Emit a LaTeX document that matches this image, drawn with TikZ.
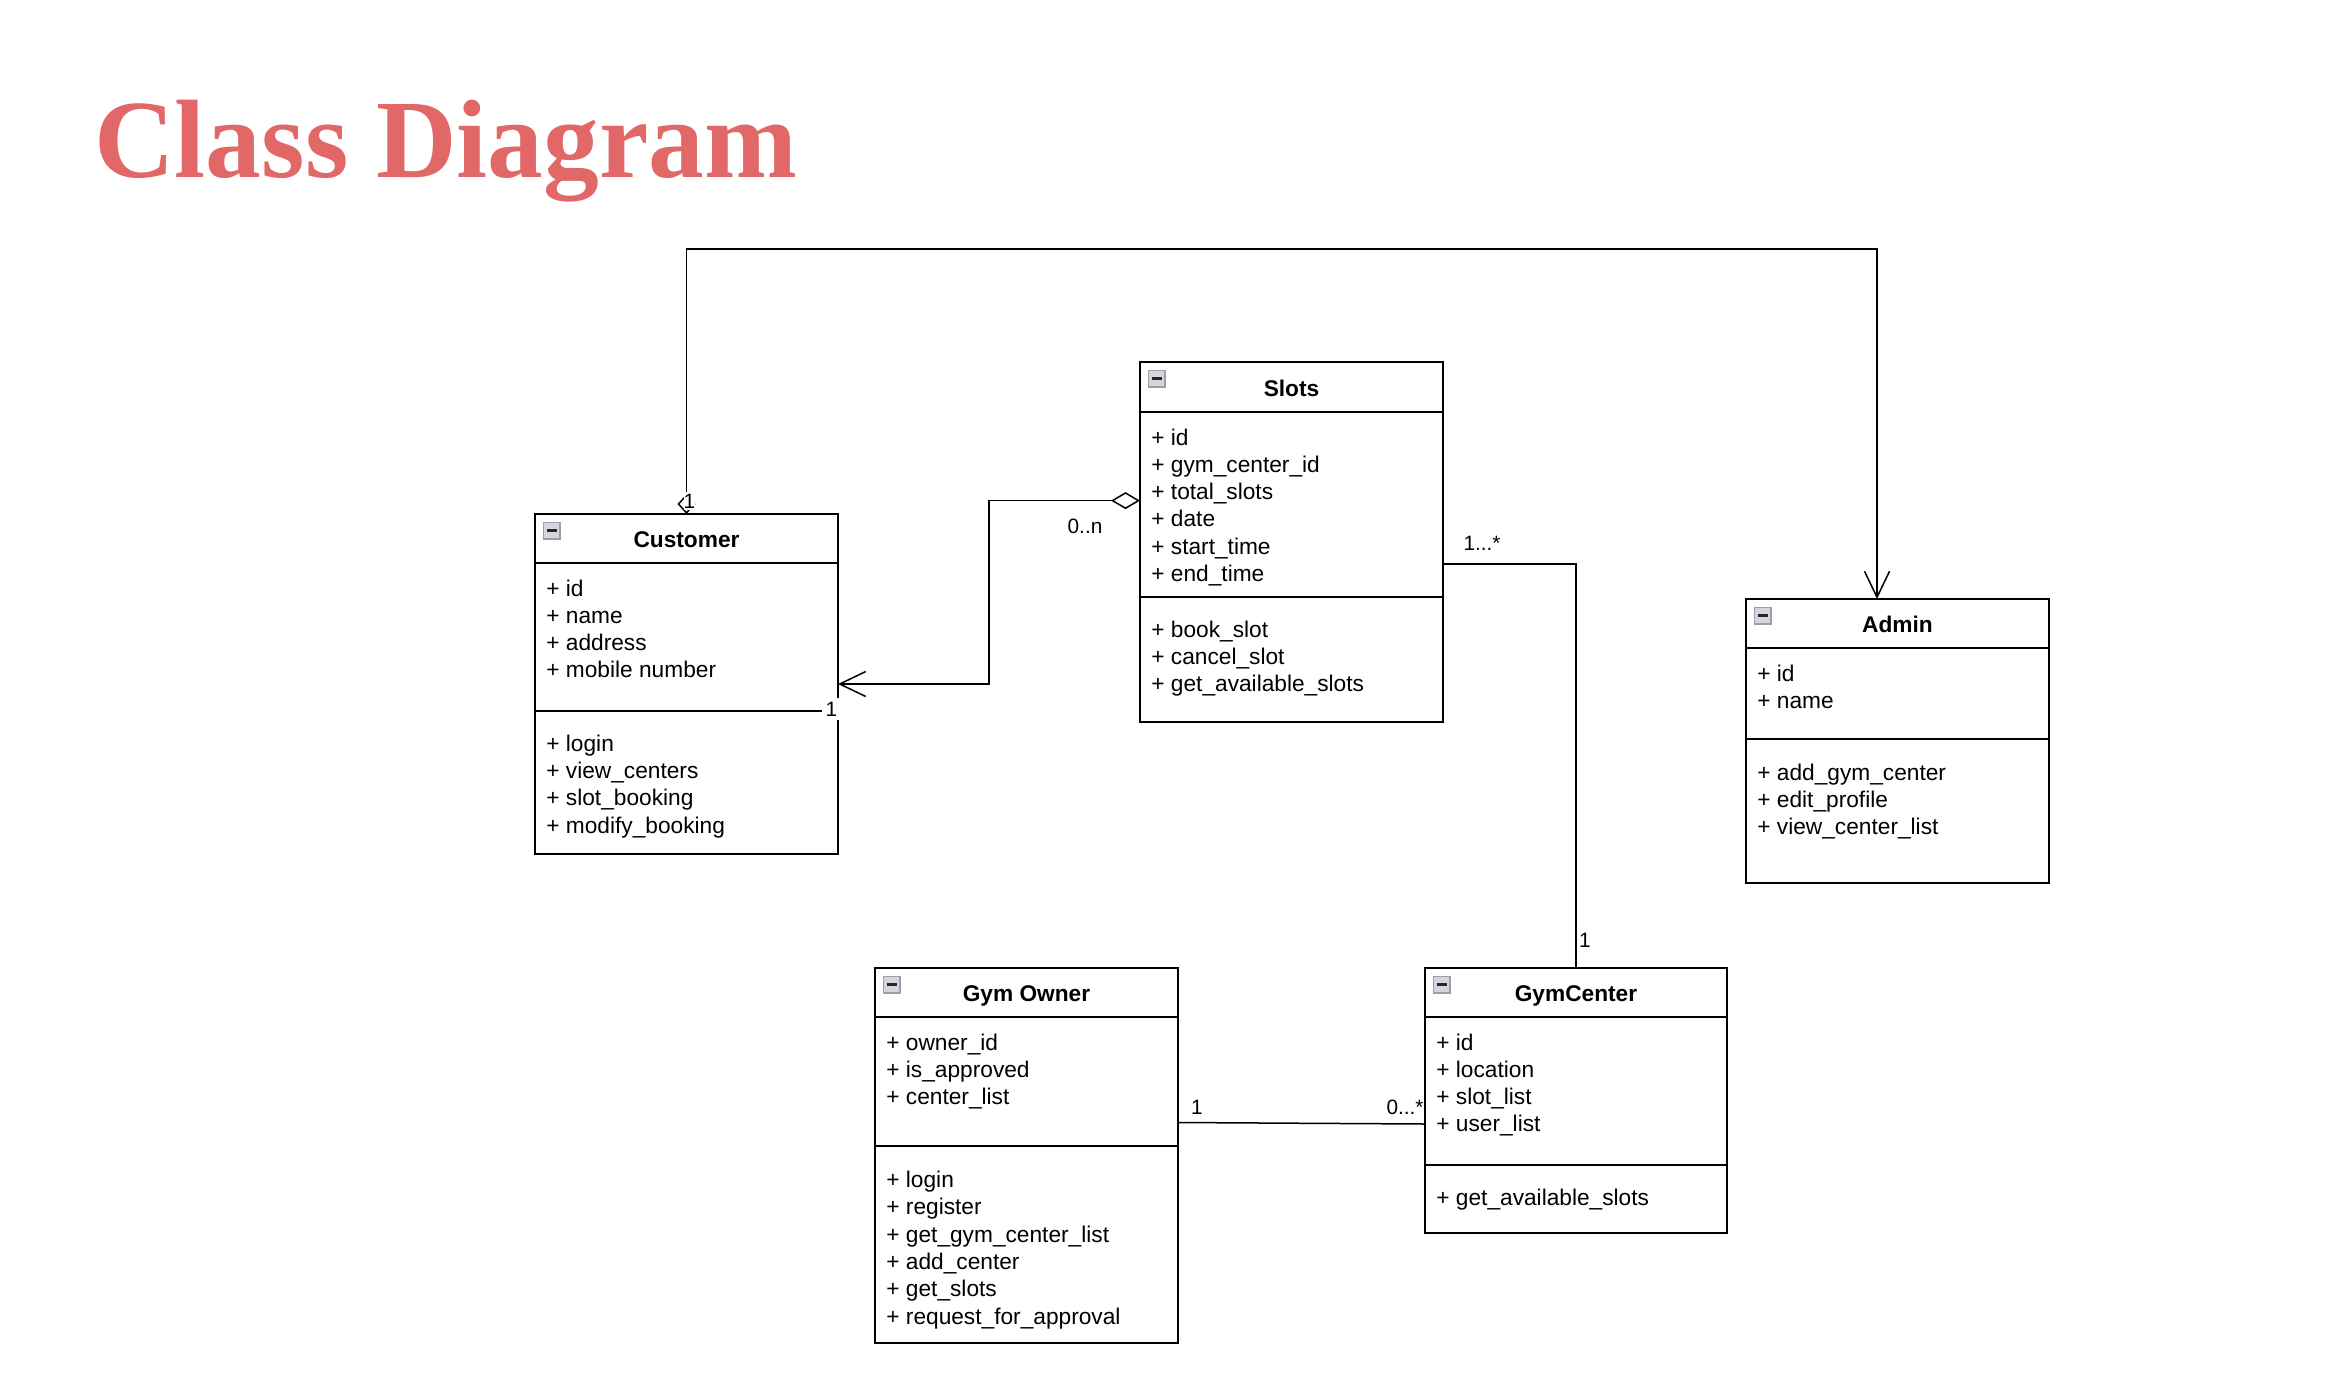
\documentclass[tikz,border=0pt]{standalone}
\usepackage{fontspec}
\setmainfont{Liberation Sans}
\newfontfamily\titlefont{Liberation Serif}
\usetikzlibrary{arrows.meta}
\definecolor{titlered}{RGB}{226,104,104}
\definecolor{iconfill}{RGB}{212,212,220}
\definecolor{iconedge}{RGB}{158,158,170}
\newcommand\clsicon[2]{%
  \filldraw[fill=iconfill, draw=iconedge, line width=0.8pt] ({#1+8.5},{#2+8.5}) rectangle ({#1+25},{#2+25});
  \draw[line width=1.3pt, black!85] ({#1+12},{#2+16.75}) -- ({#1+21.5},{#2+16.75});}
\begin{document}
\begin{tikzpicture}[x=0.5pt,y=-0.5pt,
  cls/.style={draw, line width=0.9pt, anchor=north west, inner sep=0pt, outer sep=0pt, minimum width=151.5pt},
  sepline/.style={line width=0.9pt},
  hdr/.style={anchor=base, inner sep=0pt, font=\fontsize{11.35pt}{13.6pt}\selectfont\bfseries},
  attr/.style={anchor=base west, inner sep=0pt, font=\fontsize{11.35pt}{13.6pt}\selectfont},
  mult/.style={inner sep=0.5pt, font=\fontsize{10.4pt}{12pt}\selectfont},
  conn/.style={line width=0.75pt},
  openv/.style={-{Straight Barb[length=13pt,width=12.5pt]}},
]
\fill[white] (0,0) rectangle (2342,1372);
\useasboundingbox (0,0) rectangle (2342,1372);

% title
\node[anchor=base west, inner sep=0pt, text=titlered,
      font=\titlefont\bfseries\fontsize{55.75pt}{60pt}\selectfont] (title) at (94,177) {Class Diagram};

% ---------- Customer ----------
\node[cls, minimum height=170pt] (cust) at (535,514) {};
\draw[sepline] (535,563) -- (838,563);
\draw[sepline] (535,711) -- (838,711);
\clsicon{535}{514}
\node[hdr] (custH) at (686.5,547) {Customer};
\foreach \t [count=\i] in {id,name,address,mobile number}
  \node[attr] (custA\i) at (546,{596+27.3*(\i-1)}) {+ \t};
\foreach \t [count=\i] in {login,view\_centers,slot\_booking,modify\_booking}
  \node[attr] (custM\i) at (546,{751.3+27.3*(\i-1)}) {+ \t};

% ---------- Slots ----------
\node[cls, minimum height=180pt] (slots) at (1140,362) {};
\draw[sepline] (1140,412) -- (1443,412);
\draw[sepline] (1140,597) -- (1443,597);
\clsicon{1140}{362}
\node[hdr] (slotsH) at (1291.5,396) {Slots};
\foreach \t [count=\i] in {id,gym\_center\_id,total\_slots,date,start\_time,end\_time}
  \node[attr] (slotsA\i) at (1151,{445+27.3*(\i-1)}) {+ \t};
\foreach \t [count=\i] in {book\_slot,cancel\_slot,get\_available\_slots}
  \node[attr] (slotsM\i) at (1151,{637+27.3*(\i-1)}) {+ \t};

% ---------- Admin ----------
\node[cls, minimum height=142pt] (adm) at (1746,599) {};
\draw[sepline] (1746,648) -- (2049,648);
\draw[sepline] (1746,739) -- (2049,739);
\clsicon{1746}{599}
\node[hdr] (admH) at (1897.5,632) {Admin};
\foreach \t [count=\i] in {id,name}
  \node[attr] (admA\i) at (1757,{681+27.3*(\i-1)}) {+ \t};
\foreach \t [count=\i] in {add\_gym\_center,edit\_profile,view\_center\_list}
  \node[attr] (admM\i) at (1757,{780+27.3*(\i-1)}) {+ \t};

% ---------- Gym Owner ----------
\node[cls, minimum height=187.5pt] (gown) at (875,968) {};
\draw[sepline] (875,1017) -- (1178,1017);
\draw[sepline] (875,1146) -- (1178,1146);
\clsicon{875}{968}
\node[hdr] (gownH) at (1026.5,1001) {Gym Owner};
\foreach \t [count=\i] in {owner\_id,is\_approved,center\_list}
  \node[attr] (gownA\i) at (886,{1050+27.3*(\i-1)}) {+ \t};
\foreach \t [count=\i] in {login,register,get\_gym\_center\_list,add\_center,get\_slots,request\_for\_approval}
  \node[attr] (gownM\i) at (886,{1187.5+27.3*(\i-1)}) {+ \t};

% ---------- GymCenter ----------
\node[cls, minimum width=151pt, minimum height=132.5pt] (gymc) at (1425,968) {};
\draw[sepline] (1425,1017) -- (1727,1017);
\draw[sepline] (1425,1165) -- (1727,1165);
\clsicon{1425}{968}
\node[hdr] (gymcH) at (1576,1001) {GymCenter};
\foreach \t [count=\i] in {id,location,slot\_list,user\_list}
  \node[attr] (gymcA\i) at (1436,{1050+27.3*(\i-1)}) {+ \t};
\node[attr] (gymcM1) at (1436,1205.5) {+ get\_available\_slots};

% ---------- connectors ----------
% Customer -> Admin
\coordinate (tl) at (686.5,249);
\coordinate (tr) at (1877,249);
\draw[conn, {Diamond[fill=white,length=10pt,width=9pt]}-{Straight Barb[length=13pt,width=12.5pt]}]
  (cust.north) -- (tl) -- (tr) -- (tr |- adm.north);
\node[mult, fill=white, inner xsep=0pt, inner ysep=1pt] (m1) at (689.5,501) {1};

% Slots (aggregation) -> Customer
\draw[conn, {Diamond[fill=white,length=14.5pt,width=8.5pt]}-{Straight Barb[length=13pt,width=12.5pt]}]
  (slots.west |- 0,500.6) -- (989,500.6) -- (989,684) -- (cust.east |- 0,684);
\node[mult] (m2) at (1085,526) {0..n};
\node[mult, fill=white, inner sep=2pt] (m3) at (831.5,709) {1};

% Slots -- GymCenter
\coordinate (sc) at (1576,564);
\draw[conn] (slots.east |- sc) -- (sc) -- (gymc.north);
\node[mult] (m4) at (1482,543) {1...*};
\node[mult] (m5) at (1585,940) {1};

% Gym Owner -- GymCenter
\draw[conn] (gown.east |- 0,1122.5) -- (gymc.west |- 0,1124);
\node[mult] (m6) at (1197,1107) {1};
\node[mult] (m7) at (1405,1107) {0...*};
\end{tikzpicture}
\end{document}
